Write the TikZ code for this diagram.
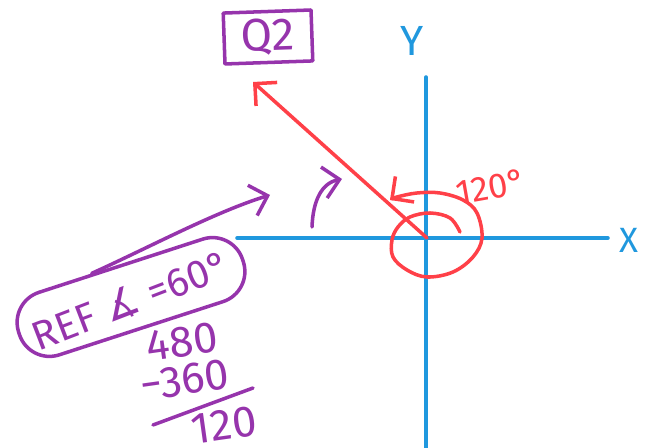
\documentclass[tikz,border=0pt]{standalone}
\usepackage{fontspec}
\setmainfont{Fira Sans}
\newfontfamily\symfont{DejaVu Sans}
\usetikzlibrary{arrows.meta,shapes.geometric}
\definecolor{penpurple}{RGB}{150,52,172}
\definecolor{penred}{RGB}{255,64,72}
\definecolor{penblue}{RGB}{32,152,222}

\tikzset{
  pen/.style={line width=2pt, line cap=round, line join=round},
  barb/.style={-{Straight Barb[length=9pt,width=18pt]}},
  sum/.style={text=penpurple, font=\fontsize{25}{27}\selectfont, rotate=8, inner sep=1pt},
}

\begin{document}
\begin{tikzpicture}[x=0.02cm, y=-0.02cm]
  \useasboundingbox (0,0) rectangle (647,448);

  % axes
  \coordinate (O) at (427,238);
  \coordinate (xl) at (237,238);
  \coordinate (xr) at (608,238);
  \coordinate (yt) at (426,77);
  \coordinate (yb) at (426,448);
  \draw[pen, penblue] (xl) -- (xr);
  \draw[pen, penblue] (yt) -- (yb);
  \node[text=penblue, font=\fontsize{20}{22}\selectfont] (xlab) at (629,240) {X};
  \node[text=penblue, font=\fontsize{24}{26}\selectfont] (ylab) at (412,41) {Y};

  % terminal side and the turn
  \coordinate (P) at (253,82);
  \draw[pen, penred, barb] (O) -- (P);
  \draw[pen, penred, barb] plot[smooth, tension=0.6] coordinates {
    (460,232) (450,218) (430,213) (410,217) (398,227) (392,240) (393,257)
    (407,270) (427,277) (453,272) (473,257) (482,238) (477,213) (463,200)
    (440,193) (417,193) (397,197) (390,200)};
  \node[text=penred, font=\fontsize{20}{22}\selectfont, rotate=10] (turn) at (491,187) {120°};

  % quadrant
  \node[draw=penpurple, pen, text=penpurple, font=\fontsize{26}{28}\selectfont,
    rotate=2, minimum width=50pt, minimum height=29pt] (q2) at (268,37) {Q2};

  % reference angle
  \node[draw=penpurple, pen, rounded corners=18pt, rotate=18, minimum width=134pt,
    minimum height=37.4pt, inner sep=0pt] (refbox) at (131,297) {};
  \node[text=penpurple, font=\fontsize{23}{25}\selectfont, rotate=21] (reftext) at (131,301)
    {REF {\symfont ∡} =60°};
  \coordinate (aim) at (270,195);
  \draw[pen, penpurple, barb] (refbox.131) .. controls (150,247) and (215,212) .. (aim);
  \coordinate (h1) at (312,227);
  \coordinate (h2) at (342,179);
  \draw[pen, penpurple, barb] (h1) .. controls (313,200) and (322,183) .. (h2);

  % subtraction
  \node[sum] (top) at (182,342) {480};
  \node[sum] (sub) at (185,380) {−360};
  \node[sum] (res) at (224,425) {120};
  \coordinate (ul1) at (153,425);
  \coordinate (ul2) at (253,388);
  \draw[pen, penpurple] (ul1) -- (ul2);
\end{tikzpicture}
\end{document}
